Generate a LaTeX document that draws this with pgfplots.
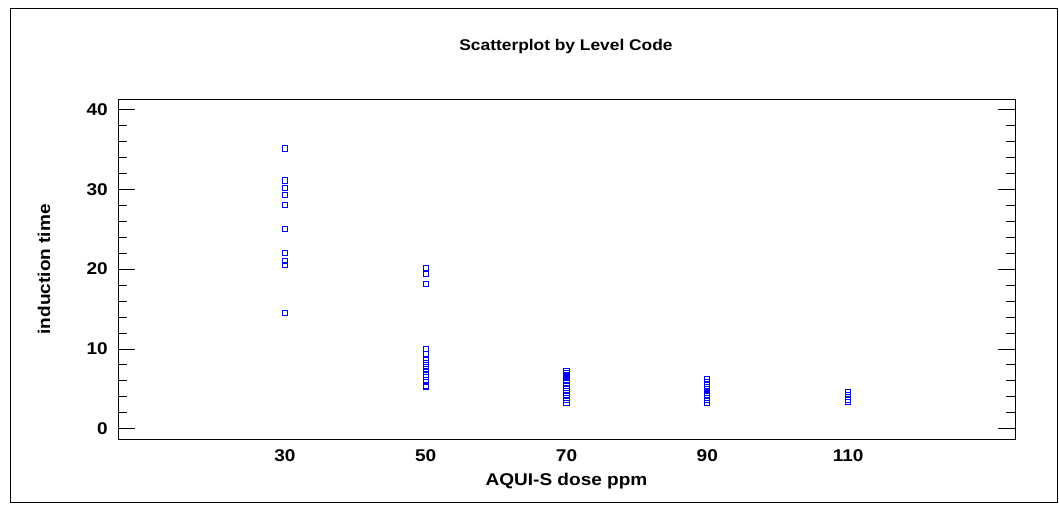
\documentclass[border=0pt]{standalone}
\usepackage{fontspec}
\setmainfont{Liberation Sans}[FakeStretch=1.12]
\usepackage{pgfplots}
\pgfplotsset{compat=1.18}
\pgfplotstableread{
x y
30 35.1
30 31.1
30 30.2
30 29.3
30 29.3
30 28.0
30 25.0
30 25.0
30 22.0
30 21.0
30 20.5
30 14.5
50 20.1
50 19.4
50 18.1
50 10.0
50 9.4
50 8.6
50 8.2
50 7.8
50 7.5
50 7.2
50 6.8
50 6.5
50 6.1
50 5.4
50 5.3
70 7.3
70 7.0
70 6.8
70 6.5
70 6.2
70 6.0
70 5.7
70 5.4
70 5.1
70 4.8
70 4.5
70 4.2
70 3.9
70 3.6
70 3.2
90 6.2
90 5.9
90 5.6
90 5.3
90 5.0
90 4.8
90 4.5
90 4.2
90 3.9
90 3.6
90 3.2
110 4.6
110 4.3
110 4.0
110 3.7
110 3.4
}\datatable
\begin{document}
\begin{tikzpicture}
\path[use as bounding box] (0pt,0pt) rectangle (1059pt,504pt);
\draw[line width=1pt] (10pt,2pt) rectangle (1057pt,495pt);
\node[font=\fontsize{15.5}{18}\selectfont\bfseries] at (566pt,458pt) {Scatterplot by Level Code};
\begin{axis}[
  at={(118pt,64.7pt)}, anchor=south west,
  scale only axis, width=897pt, height=340pt,
  xmin=6.3, xmax=133.7, ymin=-1.3, ymax=41.25,
  xtick={30,50,70,90,110}, ytick={0,10,20,30,40},
  minor y tick num=4,
  tick align=inside,
  ytick pos=both,
  xtick style={draw=none},
  major tick length=17pt, minor tick length=9pt,
  every tick/.style={black, line width=1pt},
  axis line style={line width=1pt},
  tick label style={font=\fontsize{17}{20}\selectfont\bfseries},
  /pgf/number format/assume math mode=true,
  yticklabel style={inner sep=0pt, xshift=-10pt},
  xticklabel style={inner sep=0pt, yshift=-10pt},
  xlabel={AQUI-S dose ppm},
  ylabel={induction time},
  label style={font=\fontsize{17}{20}\selectfont\bfseries},
  xlabel style={at={(axis description cs:0.5,0)}, anchor=north, inner sep=0pt, yshift=-34pt},
  ylabel style={at={(axis description cs:-0.0825,0.5)}, anchor=center, inner sep=0pt},
  clip=false,
]
\addplot[only marks, mark=square, mark size=2.6pt, color={rgb,255:red,0;green,0;blue,255}, mark options={line width=0.9pt}] table[x=x,y=y] {\datatable};
\end{axis}
\end{tikzpicture}
\end{document}
